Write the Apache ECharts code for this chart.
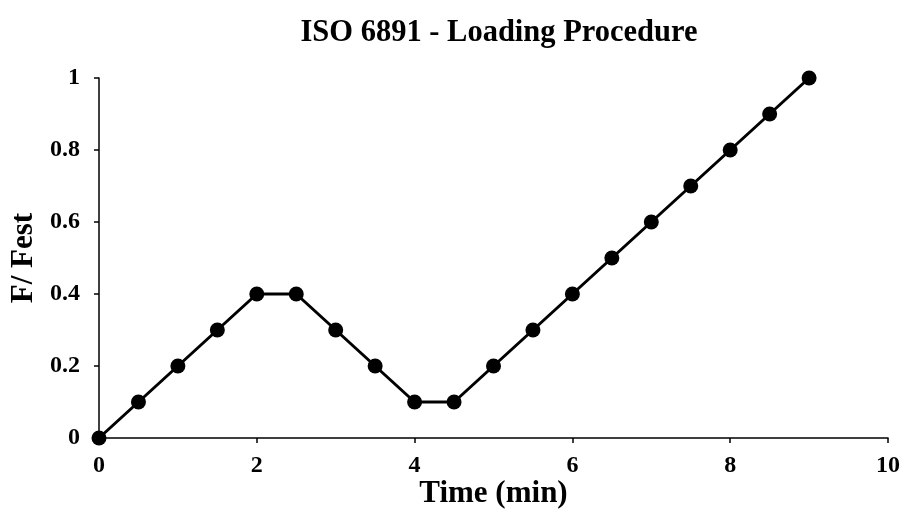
<!DOCTYPE html>
<html>
<head>
<meta charset="utf-8">
<script src="https://cdn.jsdelivr.net/npm/echarts@6/dist/echarts.min.js"></script>
<style>
html,body{margin:0;padding:0;background:#fff;}
#chart{width:904px;height:523px;}
</style>
</head>
<body>
<div id="chart"></div>
<script>
// Loading procedure: time in minutes vs. normalized force F/Fest
const timeMin = [0, 0.5, 1, 1.5, 2, 2.5, 3, 3.5, 4, 4.5, 5, 5.5, 6, 6.5, 7, 7.5, 8, 8.5, 9];
const forceRatio = [0, 0.1, 0.2, 0.3, 0.4, 0.4, 0.3, 0.2, 0.1, 0.1, 0.2, 0.3, 0.4, 0.5, 0.6, 0.7, 0.8, 0.9, 1];

const chart = echarts.init(document.getElementById('chart'));
const font = '"Liberation Serif", "Times New Roman", serif';
const tickText = { color: '#000', fontFamily: font, fontWeight: 'bold', fontSize: 24 };
const nameText = { color: '#000', fontFamily: font, fontWeight: 'bold', fontSize: 31 };

chart.setOption({
  animation: false,
  title: {
    text: 'ISO 6891 - Loading Procedure',
    left: 494, top: 13, textAlign: 'center',
    textStyle: { color: '#000', fontFamily: font, fontWeight: 'bold', fontSize: 30.5 }
  },
  grid: { left: 98, right: 16, top: 78, bottom: 85 },
  xAxis: {
    type: 'value', min: 0, max: 10, interval: 2,
    name: 'Time (min)', nameLocation: 'middle', nameGap: 40, nameMoveOverlap: false,
    nameTextStyle: nameText,
    axisLine: { lineStyle: { color: '#000', width: 1.5 } },
    axisTick: { show: true, inside: false, length: 5, lineStyle: { color: '#000', width: 1.5 } },
    axisLabel: Object.assign({ margin: 16 }, tickText),
    splitLine: { show: false }
  },
  yAxis: {
    type: 'value', min: 0, max: 1, interval: 0.2,
    name: 'F/ Fest', nameLocation: 'middle', nameGap: 60, nameRotate: 90, nameMoveOverlap: false,
    nameTextStyle: nameText,
    axisLine: { show: true, lineStyle: { color: '#000', width: 1.5 } },
    axisTick: { show: true, inside: false, length: 5, lineStyle: { color: '#000', width: 1.5 } },
    axisLabel: Object.assign({ margin: 19, formatter: v => String(+v.toFixed(1)) }, tickText),
    splitLine: { show: false }
  },
  series: [{
    type: 'line',
    data: timeMin.map((t, i) => [t, forceRatio[i]]),
    symbol: 'circle', symbolSize: 15,
    lineStyle: { color: '#000', width: 3 },
    itemStyle: { color: '#000' },
    clip: false
  }]
});
</script>
</body>
</html>
